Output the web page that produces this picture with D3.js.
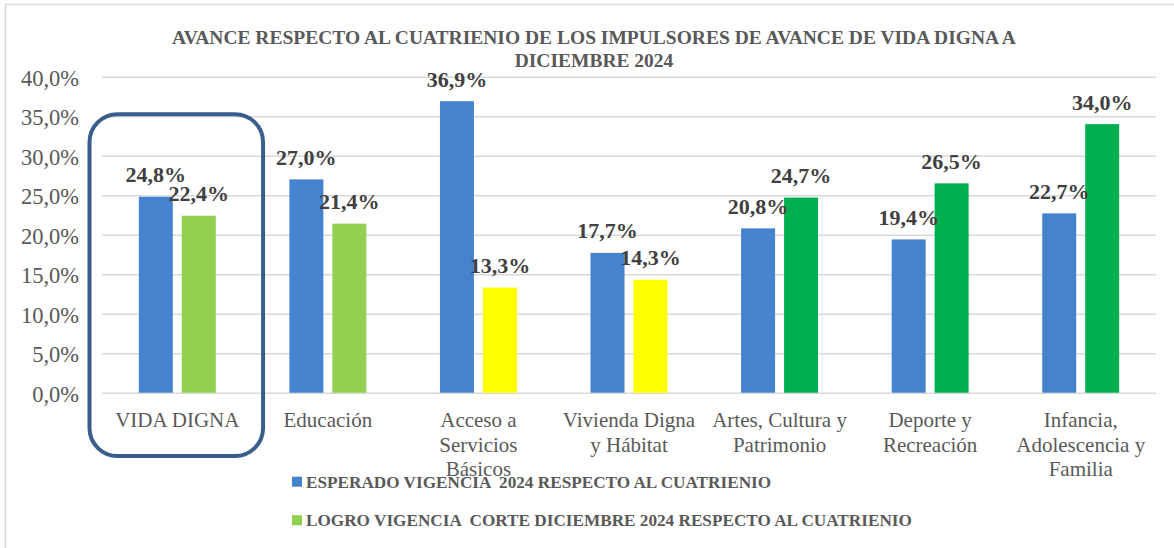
<!DOCTYPE html>
<html>
<head>
<meta charset="utf-8">
<script src="https://cdn.jsdelivr.net/npm/d3@7"></script>
<style>
  html, body { margin: 0; padding: 0; background: #fff; }
  svg { display: block; }
  text { font-family: "Liberation Serif", "Times New Roman", serif; }
</style>
</head>
<body>
<svg id="chart" width="1174" height="548"></svg>
<script>
// ---- data ----
const categories = [
  "VIDA DIGNA",
  "Educación",
  "Acceso a Servicios Básicos",
  "Vivienda Digna y Hábitat",
  "Artes, Cultura y Patrimonio",
  "Deporte y Recreación",
  "Infancia, Adolescencia y Familia"
];
const categoryLines = [
  ["VIDA DIGNA"],
  ["Educación"],
  ["Acceso a", "Servicios", "Básicos"],
  ["Vivienda Digna", "y Hábitat"],
  ["Artes, Cultura y", "Patrimonio"],
  ["Deporte y", "Recreación"],
  ["Infancia,", "Adolescencia y", "Familia"]
];
const seriesNames = [
  "ESPERADO VIGENCIA  2024 RESPECTO AL CUATRIENIO",
  "LOGRO VIGENCIA  CORTE DICIEMBRE 2024 RESPECTO AL CUATRIENIO"
];
const esperado = [0.248, 0.270, 0.369, 0.177, 0.208, 0.194, 0.227];
const logro    = [0.224, 0.214, 0.133, 0.143, 0.247, 0.265, 0.340];
const logroColors = ["#92D050", "#92D050", "#FFFF00", "#FFFF00", "#00B050", "#00B050", "#00B050"];
const esperadoColor = "#4683CF";
const yTicks = [0, 0.05, 0.10, 0.15, 0.20, 0.25, 0.30, 0.35, 0.40];
const titleLines = [
  "AVANCE RESPECTO AL CUATRIENIO DE LOS IMPULSORES DE AVANCE DE VIDA DIGNA A",
  "DICIEMBRE 2024"
];

// ---- layout ----
const svg = d3.select("#chart");
const plot = { left: 102, right: 1156, top: 76.7, bottom: 392.7 };

// outer chart border
svg.append("rect")
  .attr("x", 5.5).attr("y", 4.5)
  .attr("width", 1200).attr("height", 600)
  .attr("fill", "none").attr("stroke", "#D9D9D9").attr("stroke-width", 1.5);

const x = d3.scaleBand().domain(categories).range([plot.left, plot.right]).padding(0);
const y = d3.scaleLinear().domain([0, 0.40]).range([plot.bottom, plot.top]);
const groupW = x.bandwidth() * 0.511;
const x1 = d3.scaleBand().domain([0, 1])
  .range([(x.bandwidth() - groupW) / 2, (x.bandwidth() + groupW) / 2])
  .paddingInner(0.209).paddingOuter(0);

const fmt = v => d3.format(".1f")(v * 100).replace(".", ",") + "%";

// gridlines
const yAxis = d3.axisLeft(y).tickValues(yTicks).tickSize(-(plot.right - plot.left)).tickFormat(fmt);
const gy = svg.append("g").attr("transform", `translate(${plot.left},0)`).call(yAxis);
gy.select(".domain").remove();
gy.selectAll(".tick line").attr("stroke", "#D9D9D9").attr("stroke-width", 1.5);
gy.selectAll(".tick text")
  .attr("x", -23).attr("dy", "0.38em")
  .attr("fill", "#595959")
  .style("font-size", "22.5px")
  .style("font-family", "'Liberation Serif', serif");

// title
svg.append("g").selectAll("text").data(titleLines).join("text")
  .attr("x", 594).attr("y", (d, i) => 43.5 + i * 23)
  .attr("text-anchor", "middle")
  .attr("fill", "#595959")
  .style("font-size", "19.5px").style("font-weight", "bold")
  .text(d => d);

// bars
const rows = categories.map((c, i) => ({ c, i, vals: [esperado[i], logro[i]] }));
const groups = svg.append("g").selectAll("g").data(rows).join("g")
  .attr("transform", d => `translate(${x(d.c)},0)`);

groups.selectAll("rect").data(d => d.vals.map((v, s) => ({ v, s, i: d.i }))).join("rect")
  .attr("x", d => x1(d.s))
  .attr("width", x1.bandwidth())
  .attr("y", d => y(d.v))
  .attr("height", d => y(0) - y(d.v))
  .attr("fill", d => d.s === 0 ? esperadoColor : logroColors[d.i]);

// data labels
groups.selectAll("text.lbl").data(d => d.vals.map((v, s) => ({ v, s, i: d.i }))).join("text")
  .attr("class", "lbl")
  .attr("x", d => x1(d.s) + x1.bandwidth() / 2)
  .attr("y", d => y(d.v) - 14.5)
  .attr("text-anchor", "middle")
  .attr("fill", "#404040")
  .style("font-size", "22px").style("font-weight", "bold")
  .text(d => fmt(d.v));

// category labels
const cl = svg.append("g").selectAll("text").data(categories).join("text")
  .attr("x", d => x(d) + x.bandwidth() / 2)
  .attr("y", 427)
  .attr("text-anchor", "middle")
  .attr("fill", "#595959")
  .style("font-size", "21px");
cl.selectAll("tspan").data((d, i) => categoryLines[i]).join("tspan")
  .attr("x", function() { return d3.select(this.parentNode).attr("x"); })
  .attr("dy", (d, i) => i === 0 ? 0 : 24.5)
  .text(d => d);

// highlight rounded box around VIDA DIGNA
svg.append("rect")
  .attr("x", x(categories[0]) - 12.5)
  .attr("y", y(0.35) - 2)
  .attr("width", x.bandwidth() + 23)
  .attr("height", 456 - (y(0.35) - 2))
  .attr("rx", 28).attr("ry", 28)
  .attr("fill", "none")
  .attr("stroke", "#3A5E8C").attr("stroke-width", 4);

// legend
const legendColors = [esperadoColor, "#92D050"];
const lg = svg.append("g").selectAll("g").data(seriesNames).join("g")
  .attr("transform", (d, i) => `translate(292,${476.7 + i * 38.5})`);
lg.append("rect").attr("width", 10).attr("height", 10).attr("fill", (d, i) => legendColors[i]);
lg.append("text")
  .attr("x", 14).attr("y", 11)
  .attr("fill", "#595959")
  .style("font-size", "17.2px").style("font-weight", "bold")
  .style("white-space", "pre")
  .attr("xml:space", "preserve")
  .text(d => d);
</script>
</body>
</html>
